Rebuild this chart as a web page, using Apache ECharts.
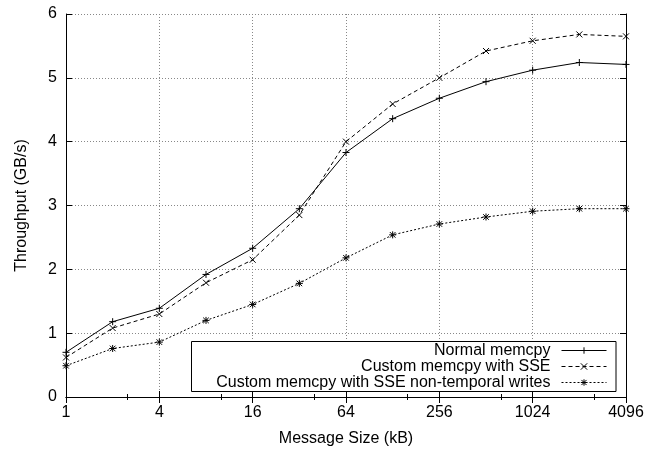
<!DOCTYPE html>
<html>
<head>
<meta charset="utf-8">
<script src="https://cdn.jsdelivr.net/npm/echarts@6/dist/echarts.min.js"></script>
<style>html,body{margin:0;padding:0;background:#fff}#c{width:657px;height:449px}</style>
</head>
<body>
<div id="c"></div>
<script>
const messageSizes = [1, 2, 4, 8, 16, 32, 64, 128, 256, 512, 1024, 2048, 4096];
const normalMemcpy = [0.70, 1.18, 1.39, 1.92, 2.33, 2.95, 3.83, 4.36, 4.68, 4.94, 5.12, 5.24, 5.21];
const sseMemcpy = [0.62, 1.08, 1.30, 1.79, 2.15, 2.85, 4.00, 4.59, 5.00, 5.42, 5.58, 5.68, 5.65];
const sseNonTemporal = [0.49, 0.76, 0.86, 1.20, 1.45, 1.78, 2.18, 2.54, 2.71, 2.82, 2.91, 2.95, 2.95];
const seriesNames = ['Normal memcpy', 'Custom memcpy with SSE', 'Custom memcpy with SSE non-temporal writes'];
const xTickLabels = [1, 4, 16, 64, 256, 1024, 4096];
const yTickLabels = [0, 1, 2, 3, 4, 5, 6];

const FONT = "'Liberation Sans', Arial, sans-serif";
const plusPath = 'path://M0,5L10,5M5,0L5,10';
const crossPath = 'path://M0,0L10,10M0,10L10,0';
const starPath = 'path://M0,5L10,5M5,0L5,10M1,1L9,9M1,9L9,1';

function pairs(vals) { return messageSizes.map((s, i) => [s, vals[i]]); }

const baseX = {
  type: 'log', logBase: 2, min: 1, max: 4096, interval: 2,
  axisLine: { show: true, lineStyle: { color: '#000', width: 1 } },
  axisTick: { show: true, inside: true, length: 6, lineStyle: { color: '#000' } },
  minorTick: { show: true, splitNumber: 2, length: 3, lineStyle: { color: '#000' } },
  splitLine: { show: false },
  minorSplitLine: { show: false }
};
const baseY = {
  type: 'value', min: 0, max: 6, interval: 1,
  axisLine: { show: true, lineStyle: { color: '#000', width: 1 } },
  axisTick: { show: true, inside: true, length: 6, lineStyle: { color: '#000' } },
  splitLine: { show: false }
};

const chart = echarts.init(document.getElementById('c'), null, { renderer: 'canvas' });
chart.setOption({
  animation: false,
  backgroundColor: '#fff',
  textStyle: { fontFamily: FONT, color: '#000' },
  grid: { left: 66, right: 31, top: 14, bottom: 52, show: false, outerBoundsMode: 'none', containLabel: false },
  xAxis: [
    Object.assign({}, baseX, {
      position: 'bottom',
      name: 'Message Size (kB)', nameLocation: 'middle', nameGap: 34,
      nameTextStyle: { fontFamily: FONT, fontSize: 16, color: '#000' },
      axisLabel: {
        fontFamily: FONT, fontSize: 16, color: '#000', margin: 8,
        formatter: v => (xTickLabels.indexOf(Math.round(v)) >= 0 ? String(Math.round(v)) : '')
      },
      splitLine: { show: true, lineStyle: { color: '#888', type: [1, 2], width: 1 } }
    }),
    Object.assign({}, baseX, { position: 'top', axisLabel: { show: false } })
  ],
  yAxis: [
    Object.assign({}, baseY, {
      position: 'left',
      name: 'Throughput (GB/s)', nameLocation: 'middle', nameGap: 36,
      nameTextStyle: { fontFamily: FONT, fontSize: 16, color: '#000' },
      axisLabel: {
        fontFamily: FONT, fontSize: 16, color: '#000', margin: 9,
        formatter: v => (yTickLabels.indexOf(v) >= 0 ? String(v) : '')
      },
      splitLine: { show: true, lineStyle: { color: '#888', type: [1, 2], width: 1 } }
    }),
    Object.assign({}, baseY, { position: 'right', axisLabel: { show: false } })
  ],
  legend: {
    orient: 'vertical',
    left: 191.5, top: 341.5,
    align: 'right',
    itemWidth: 45, itemHeight: 8, itemGap: 0,
    padding: [1, 9, 1, 15],
    backgroundColor: '#fff',
    borderColor: '#000', borderWidth: 1, borderRadius: 0,
    selectedMode: false,
    lineStyle: { width: 1, color: '#000' },
    itemStyle: { borderWidth: 1, borderColor: '#000', color: 'rgba(0,0,0,0)' },
    data: seriesNames,
    formatter: name => '{t|' + name + '}',
    textStyle: {
      fontFamily: FONT, fontSize: 16, color: '#000',
      rich: { t: { width: 344, padding: [0, 6, 0, 0], align: 'right', fontSize: 16, lineHeight: 16, fontFamily: FONT, color: '#000' } }
    }
  },
  series: [
    {
      name: seriesNames[0], type: 'line', xAxisIndex: 0, yAxisIndex: 0,
      data: pairs(normalMemcpy),
      symbol: plusPath, symbolSize: 7,
      lineStyle: { color: '#000', width: 1, type: 'solid' },
      itemStyle: { color: 'rgba(0,0,0,0)', borderColor: '#000', borderWidth: 1 },
      z: 5
    },
    {
      name: seriesNames[1], type: 'line', xAxisIndex: 0, yAxisIndex: 0,
      data: pairs(sseMemcpy),
      symbol: crossPath, symbolSize: 6,
      lineStyle: { color: '#000', width: 1, type: [4, 3] },
      itemStyle: { color: 'rgba(0,0,0,0)', borderColor: '#000', borderWidth: 1 },
      z: 5
    },
    {
      name: seriesNames[2], type: 'line', xAxisIndex: 0, yAxisIndex: 0,
      data: pairs(sseNonTemporal),
      symbol: starPath, symbolSize: 7,
      lineStyle: { color: '#000', width: 1, type: [2, 2] },
      itemStyle: { color: 'rgba(0,0,0,0)', borderColor: '#000', borderWidth: 1 },
      z: 5
    }
  ]
});
</script>
</body>
</html>
